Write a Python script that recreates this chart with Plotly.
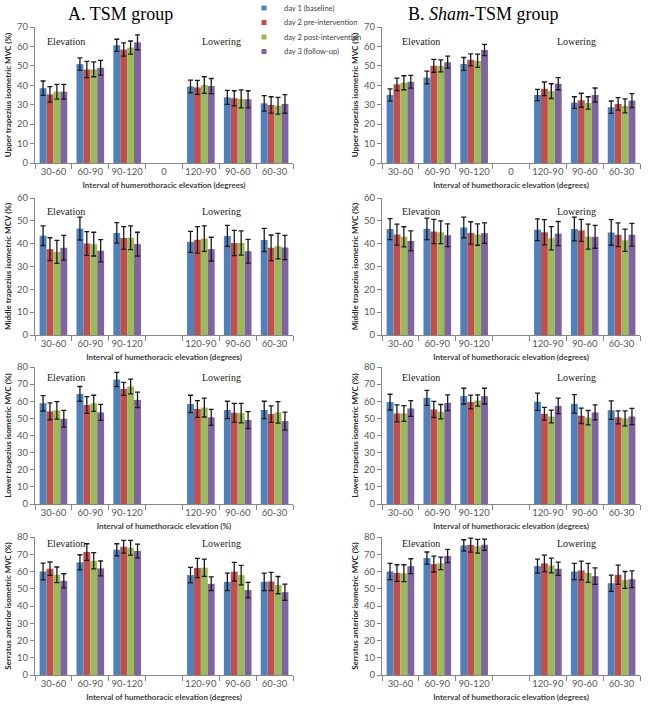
import plotly.graph_objects as go
from plotly.subplots import make_subplots

CATEGORIES = ["30-60", "60-90", "90-120", "0", "120-90", "90-60", "60-30"]
LABELS_ROW1 = ["30-60", "60-90", "90-120", "0", "120-90", "90-60", "60-30"]
LABELS_OTHER = ["30-60", "60-90", "90-120", "", "120-90", "90-60", "60-30"]
SERIES = ["day 1 (baseline)", "day 2 pre-intervention", "day 2 post-intervention", "day 3 (follow-up)"]
COLORS = ["#4F81BD", "#C0504D", "#9BBB59", "#8064A2"]

N = None
# Upper trapezius - TSM
UT_TSM_MEAN = [[38.5, 50.9, 60.6, N, 39.4, 33.8, 30.7],
               [35.3, 48.1, 58.4, N, 38.9, 33.3, 29.9],
               [36.7, 48.2, 59.4, N, 40.1, 33.0, 29.5],
               [36.7, 49.0, 62.1, N, 39.6, 32.8, 30.4]]
UT_TSM_ERR = [[3.7, 3.2, 3.1, N, 3.3, 3.6, 4.0],
              [4.0, 4.2, 3.4, N, 3.6, 3.9, 4.2],
              [3.8, 3.8, 3.4, N, 4.3, 4.6, 4.3],
              [3.8, 3.8, 3.8, N, 3.9, 4.4, 4.8]]
# Upper trapezius - Sham
UT_SHAM_MEAN = [[35.0, 44.0, 51.0, N, 35.0, 31.1, 28.7],
                [40.5, 50.0, 53.1, N, 38.2, 32.3, 30.4],
                [41.3, 50.0, 52.6, N, 37.0, 30.9, 29.4],
                [41.8, 51.9, 58.2, N, 40.8, 35.0, 32.1]]
UT_SHAM_ERR = [[3.2, 3.3, 3.3, N, 2.9, 3.0, 3.2],
               [3.2, 3.3, 3.1, N, 3.5, 3.6, 3.2],
               [3.6, 3.1, 3.4, N, 3.8, 3.2, 3.6],
               [3.3, 3.1, 2.9, N, 3.1, 3.6, 3.6]]
# Middle trapezius - TSM
MT_TSM_MEAN = [[43.5, 46.6, 44.7, N, 40.8, 43.4, 41.6],
               [37.6, 40.1, 42.5, N, 41.7, 40.3, 38.2],
               [36.4, 39.8, 42.6, N, 42.2, 40.3, 38.9],
               [38.2, 36.9, 39.8, N, 37.6, 36.7, 38.3]]
MT_TSM_ERR = [[4.3, 5.0, 4.5, N, 4.6, 4.6, 5.1],
              [5.0, 5.2, 5.0, N, 5.8, 5.5, 5.6],
              [5.0, 5.2, 5.2, N, 5.6, 5.3, 5.6],
              [5.4, 4.9, 5.2, N, 5.2, 5.2, 5.3]]
# Middle trapezius - Sham
MT_SHAM_MEAN = [[46.4, 46.5, 47.1, N, 46.1, 46.4, 44.9],
                [44.0, 45.3, 44.7, N, 45.0, 45.8, 43.9],
                [43.0, 45.0, 44.0, N, 42.4, 43.1, 41.5],
                [41.2, 43.7, 44.6, N, 44.4, 43.0, 43.9]]
MT_SHAM_ERR = [[4.6, 4.7, 4.5, N, 4.8, 5.2, 5.6],
               [4.6, 5.3, 4.9, N, 5.5, 4.8, 5.2],
               [4.4, 5.0, 4.7, N, 5.1, 5.5, 4.9],
               [4.4, 5.0, 4.5, N, 5.3, 5.0, 5.0]]
# Lower trapezius - TSM
LT_TSM_MEAN = [[58.8, 64.3, 72.7, N, 58.4, 54.9, 54.9],
               [54.1, 57.8, 67.2, N, 55.5, 53.3, 52.5],
               [54.7, 58.8, 68.6, N, 56.3, 53.1, 53.5],
               [49.8, 53.5, 60.8, N, 50.6, 49.0, 48.4]]
LT_TSM_ERR = [[4.5, 4.3, 4.2, N, 5.1, 5.1, 5.1],
              [4.9, 4.9, 3.8, N, 4.9, 5.5, 4.8],
              [5.1, 4.7, 4.3, N, 5.5, 5.7, 6.3],
              [4.9, 4.7, 4.5, N, 4.7, 4.9, 5.3]]
# Lower trapezius - Sham
LT_SHAM_MEAN = [[59.5, 62.0, 63.0, N, 59.7, 58.5, 54.8],
                [52.9, 55.2, 59.6, N, 52.7, 51.5, 50.6],
                [52.9, 53.9, 60.4, N, 51.1, 50.4, 50.0],
                [55.8, 59.1, 63.0, N, 57.3, 53.5, 51.1]]
LT_SHAM_ERR = [[4.6, 4.4, 4.6, N, 5.0, 5.4, 5.4],
               [5.0, 4.7, 4.0, N, 3.7, 4.5, 3.8],
               [4.6, 4.2, 3.3, N, 3.7, 4.2, 4.4],
               [4.6, 4.6, 4.6, N, 4.5, 4.4, 4.7]]
# Serratus anterior - TSM
SA_TSM_MEAN = [[60.0, 65.3, 72.6, N, 57.9, 54.0, 54.0],
               [61.6, 71.3, 74.4, N, 62.0, 59.9, 54.2],
               [58.1, 66.2, 73.8, N, 62.2, 57.9, 52.1],
               [54.6, 61.8, 71.9, N, 52.9, 49.2, 48.0]]
SA_TSM_ERR = [[4.9, 4.4, 3.5, N, 4.5, 5.1, 5.1],
              [3.9, 4.8, 3.7, N, 5.6, 5.4, 5.3],
              [4.5, 4.7, 4.3, N, 5.0, 5.6, 5.0],
              [4.1, 4.3, 4.0, N, 4.0, 4.5, 4.7]]
# Serratus anterior - Sham
SA_SHAM_MEAN = [[60.0, 67.8, 75.1, N, 63.1, 60.0, 53.2],
                [59.1, 64.3, 75.3, N, 64.7, 60.6, 58.1],
                [59.0, 64.7, 74.6, N, 63.5, 59.2, 55.1],
                [63.1, 69.0, 75.5, N, 61.6, 57.3, 55.5]]
SA_SHAM_ERR = [[4.7, 3.5, 3.3, N, 4.1, 4.7, 4.7],
               [4.8, 4.6, 4.1, N, 4.8, 5.4, 5.6],
               [4.9, 3.6, 4.0, N, 4.3, 5.5, 4.9],
               [4.3, 3.8, 3.3, N, 3.8, 4.8, 4.9]]

Y_TITLES_LEFT = ["Upper trapezius isometric MVC (%)", "Middle trapezius isometric MCV (%)",
                 "Lower trapezius isometric MVC (%)", "Serratus anterior isometric MVC (%)"]
Y_TITLES_RIGHT = ["Upper trapezius isometric MVC (%)", "Middle trapezius isometric MVC (%)",
                  "Lower trapezius isometric MVC (%)", "Serratus anterior isometric MVC (%)"]
X_TITLES_LEFT = ["Interval of humerothoracic elevation (degrees)", "Interval of humethoracic elevation (degrees)",
                 "Interval of humethoracic elevation (%)", "Interval of humethoracic elevation (degrees)"]
X_TITLES_RIGHT = ["Interval of humethoracic elevation (degrees)"] * 4
Y_MAX = [70, 60, 80, 80]

PANELS = [(UT_TSM_MEAN, UT_TSM_ERR, UT_SHAM_MEAN, UT_SHAM_ERR),
          (MT_TSM_MEAN, MT_TSM_ERR, MT_SHAM_MEAN, MT_SHAM_ERR),
          (LT_TSM_MEAN, LT_TSM_ERR, LT_SHAM_MEAN, LT_SHAM_ERR),
          (SA_TSM_MEAN, SA_TSM_ERR, SA_SHAM_MEAN, SA_SHAM_ERR)]

W, H = 649, 707
T = 27  # top margin = top of first plot row


def py(y):
    """pixel row -> paper y"""
    return 1 - (y - T) / (H - T)


fig = make_subplots(rows=4, cols=2)

SANS = "Lato, 'Liberation Sans', sans-serif"
SERIF = "'Liberation Serif', 'Times New Roman', serif"

legend_names = ["legend", "legend2", "legend3", "legend4"]
for r, (tm, te, sm, se) in enumerate(PANELS):
    for c, (means, errs) in enumerate([(tm, te), (sm, se)]):
        for i in range(4):
            fig.add_trace(go.Bar(
                x=CATEGORIES, y=means[i], name=SERIES[i],
                marker=dict(color=COLORS[i], line=dict(width=0)),
                error_y=dict(type="data", array=errs[i], visible=True,
                             color="#1a1a1a", thickness=1.3, width=2.5),
                showlegend=False,
            ), row=r + 1, col=c + 1)

# legend entries (small square keys, like the original)
for i in range(4):
    fig.add_trace(go.Scatter(
        x=[None], y=[None], mode="markers", name=SERIES[i],
        marker=dict(symbol="square", size=5, color=COLORS[i]),
        legend=legend_names[i], showlegend=True, hoverinfo="skip",
    ), row=1, col=1)

X_DOM = [(35, 293), (382, 640)]
Y_DOM = [(27, 163), (198, 335), (367, 504), (537, 675)]

layout_updates = {}
for r in range(4):
    for c in range(2):
        idx = r * 2 + c + 1
        xn = "xaxis" if idx == 1 else f"xaxis{idx}"
        yn = "yaxis" if idx == 1 else f"yaxis{idx}"
        x0, x1 = X_DOM[c]
        y0, y1 = Y_DOM[r]
        layout_updates[xn] = dict(
            domain=[x0 / W, x1 / W], type="category", categoryorder="array",
            categoryarray=CATEGORIES, range=[-0.5, 6.5],
            tickmode="array", tickvals=CATEGORIES,
            ticktext=LABELS_ROW1 if r == 0 else LABELS_OTHER,
            tickangle=0, automargin=False,
            tickson="boundaries", ticks="outside", ticklen=5, tickcolor="#868686",
            showline=True, linecolor="#868686", linewidth=1, showgrid=False,
            tickfont=dict(family=SANS, size=9.5, color="#595959"),
            title=dict(text=(X_TITLES_LEFT if c == 0 else X_TITLES_RIGHT)[r],
                       font=dict(family=SANS, size=8, color="#404040", weight="bold"),
                       standoff=5),
            fixedrange=True,
        )
        layout_updates[yn] = dict(
            domain=[py(y1), py(y0)], range=[0, Y_MAX[r]], dtick=10,
            ticks="outside", ticklen=4, tickcolor="#868686", automargin=False,
            showline=True, linecolor="#868686", linewidth=1,
            showgrid=False, zeroline=False,
            tickfont=dict(family=SANS, size=9.5, color="#595959"),
            title=dict(text=(Y_TITLES_LEFT if c == 0 else Y_TITLES_RIGHT)[r],
                       font=dict(family=SANS, size=8, color="#262626", weight="bold"),
                       standoff=4),
            fixedrange=True,
        )

fig.update_layout(**layout_updates)

leg_rows = [8, 22.5, 37, 51.5]
for i, ln in enumerate(legend_names):
    fig.update_layout({ln: dict(
        x=244 / W, y=py(leg_rows[i]), xanchor="left", yanchor="middle",
        font=dict(family=SANS, size=7.5, color="#404040"),
        bgcolor="rgba(0,0,0,0)", borderwidth=0, itemwidth=30,
        tracegroupgap=0,
    )})

annotations = [
    dict(text="A. TSM group", x=120 / W, y=py(14), xref="paper", yref="paper",
         xanchor="center", yanchor="middle",
         showarrow=False, font=dict(family=SERIF, size=18, color="#000000")),
    dict(text="B. <i>Sham</i>-TSM group", x=483 / W, y=py(14), xref="paper", yref="paper",
         xanchor="center", yanchor="middle",
         showarrow=False, font=dict(family=SERIF, size=18, color="#000000")),
]
ELEV_Y = [0.89, 0.90, 0.92, 0.95]
for r in range(4):
    for c in range(2):
        idx = r * 2 + c + 1
        xr = "x" if idx == 1 else f"x{idx}"
        yr = "y domain" if idx == 1 else f"y{idx} domain"
        ex = 0.35 if c == 0 else 0.55
        lx = 4.55 if c == 0 else 4.78
        for txt, xx in (("Elevation", ex), ("Lowering", lx)):
            annotations.append(dict(text=txt, x=xx, y=ELEV_Y[r], xref=xr, yref=yr,
                                    xanchor="center", yanchor="middle",
                                    showarrow=False,
                                    font=dict(family=SERIF, size=10, color="#1a1a1a")))

fig.update_layout(
    width=W, height=H, margin=dict(l=0, r=0, t=T, b=0, autoexpand=False),
    paper_bgcolor="white", plot_bgcolor="white",
    barmode="group", bargap=0.25, bargroupgap=0,
    annotations=annotations,
)

fig.write_html(
    "out.html",
    config={"displayModeBar": False},
    post_script="document.body.style.margin='0px';document.body.style.overflow='hidden';",
)
